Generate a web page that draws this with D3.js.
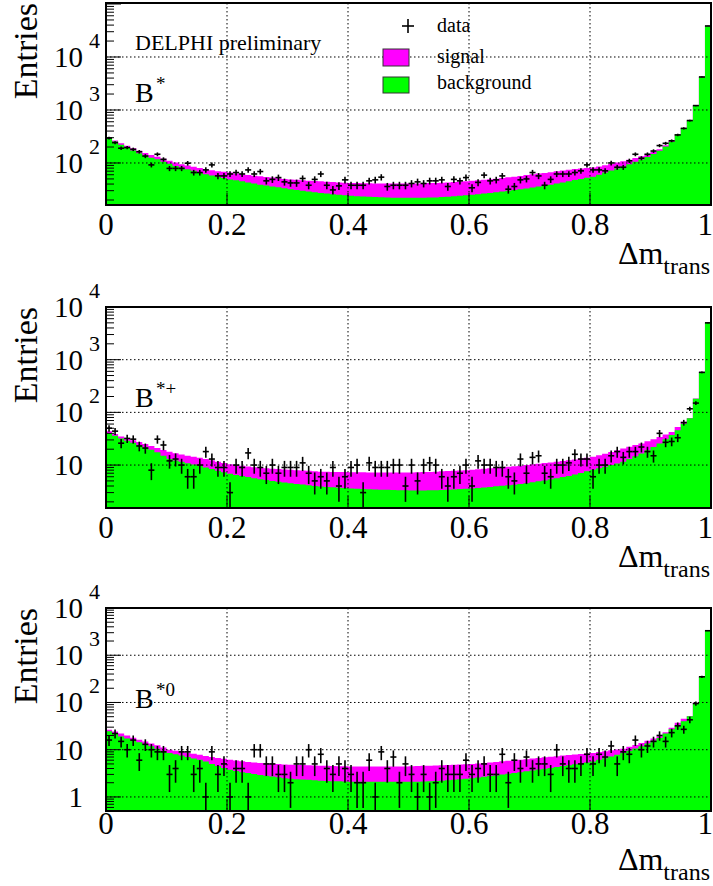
<!DOCTYPE html>
<html>
<head>
<meta charset="UTF-8">
<title>Delta m trans - DELPHI preliminary</title>
<style>
  body { margin: 0; background: #fff; }
  text { font-family: "Liberation Serif", "Times New Roman", serif; fill: #000; }
</style>
</head>
<body>
<script src="https://cdn.jsdelivr.net/npm/d3@7"></script>
<script>
// bins: 100 bins over [0,1]
var nBins = 100;
var xTicks = [0, 0.2, 0.4, 0.6, 0.8, 1];
var xTickLabels = ["0", "0.2", "0.4", "0.6", "0.8", "1"];
var xGrid = [0.2, 0.4, 0.6, 0.8];

// B* panel
var bstarData = [295,242,190,195,181,163,135,92,146,117,
  79,79,79,99,66,66,74,92,57,57,
  62,66,62,74,62,69,46,49,53,44,
  42,42,51,38,49,62,38,31,37,48,
  38,38,38,46,48,54,36,38,38,38,
  41,44,41,46,46,48,36,49,46,53,
  34,43,59,46,48,57,32,36,48,50,
  66,57,38,49,62,62,62,66,71,92,
  74,74,71,100,83,83,110,146,123,146,
  168,213,235,262,338,450,632,1210,4200,38500];
var bstarBkg = [295,255,220,195,172,152,138,126,117,106,
  97,88,82,76,71,65,61,58,55,52,
  49,47,45,43,41,39,37.5,36,35,33.5,
  32,31,30,29,28,27.2,26.5,25.8,25,24.5,
  24,23.6,23.2,23,22.7,22.5,22.3,22.1,22,22,
  22,22,22,22.2,22.4,22.7,23,23.5,24,24.5,
  25,25.7,26.4,27.2,28,29,30,31,32,33,
  34.5,36,37.5,39,41,43,45,47.5,50,52.5,
  55,60,66,72,79,86,95,105,116,130,
  148,170,204,252,347,450,630,1200,4170,38000];
var bstarTot = [300,265,235,212,190,170,155,142,131,120,
  110,102,95,90,85,80,76,73,70,68,
  66,63.5,61.5,59.5,57.5,56,54.5,53,51.5,50,
  49,48,47.2,46.4,45.7,45,44.3,43.6,43,42.5,
  42,41.7,41.5,41.3,41.1,41,41,41,41,41,
  41,41.2,41.4,41.7,42,42.5,43,43.7,44.5,45.3,
  46,47,48,49.2,50.5,52,53.5,55,57,59,
  61,63,65,67,69.5,72,74.5,77,79,80.5,
  82,86,91,96,102,108,115,124,134,146,
  161,181,215,262,352,455,635,1205,4180,38100];

// B*+ panel
var bplusData = [50,44,26,32,31,23,21,8,31,24,
  12,13,10,6,6,10,18,13,9,9,
  3,10,9,17,10,9,7,10,7,9,
  9,9,11,7,5,6,5,9,4,6,
  9,10,3,11,9,9,9,10,10,4,
  10,5,10,11,10,6,4,6,7,10,
  4,12,10,10,9,9,6,5,13,7,
  14,15,7,6,10,10,11,16,13,13,
  6,10,10,15,18,14,18,18,22,18,
  15,40,27,28,33,64,117,150,575,5000];
var bplusBkg = [40,36,32,29,26.5,24,21.5,19.5,17.5,15,
  13,12.2,11.5,10.8,10.2,9.6,9,8.4,7.8,7.3,
  6.8,6.5,6.2,5.9,5.6,5.4,5.2,5,4.8,4.65,
  4.5,4.38,4.26,4.14,4.02,3.9,3.84,3.78,3.72,3.66,
  3.6,3.56,3.52,3.48,3.44,3.4,3.38,3.36,3.34,3.32,
  3.3,3.3,3.3,3.32,3.34,3.37,3.4,3.44,3.5,3.55,
  3.6,3.68,3.76,3.85,3.95,4.05,4.15,4.25,4.38,4.5,
  4.7,4.9,5.1,5.35,5.6,5.9,6.2,6.6,7.1,7.6,
  8.1,8.7,9.3,10,10.7,11.5,13,14.7,16.6,19,
  22,25.7,31,37,46,61,77,182,575,5000];
var bplusTot = [44,39,35,32,29.5,27.5,25,23,21,19.3,
  17.8,16.8,15.8,15,14.3,13.7,13,12.3,11.6,10.9,
  10.3,10,9.7,9.4,9.1,8.9,8.7,8.55,8.4,8.25,
  8.1,8,7.9,7.8,7.65,7.5,7.46,7.42,7.38,7.34,
  7.3,7.28,7.26,7.24,7.22,7.2,7.2,7.2,7.2,7.2,
  7.25,7.3,7.35,7.4,7.5,7.6,7.7,7.8,7.9,8,
  8.1,8.3,8.5,8.7,8.9,9.1,9.3,9.5,9.75,10,
  10.3,10.6,10.9,11.2,11.6,12,12.4,12.8,13.3,13.8,
  14.3,15.3,16.4,17.6,19,20.6,22.2,23.9,25.7,28.2,
  31,34,38,42.5,53,66,78,183,576,5010];

// B*0 panel
var bzeroData = [16,22,15,10,16,6,13,10,9,9,
  3,4,9,9,3,4,1,9,3,5,
  1,4,4,1,10,10,5,5,3,3,
  2,5,5,10,5,8,4,3,5,4,
  3,2,2,6,1,9,4,7,2,5,
  3,1,3,1,2,4,3,3,3,6,
  3,4,5,3,3,8,2,6,4,7,
  4,5,5,3,10,5,4,4,5,8,
  5,8,7,12,5,9,8,16,10,12,
  15,20,15,23,32,27,43,95,350,3300];
var bzeroBkg = [24.5,21.5,19,17.2,15.7,14.3,13,11.8,10.5,9.4,
  8.5,8,7.5,7,6.5,6.1,5.6,5,4.5,4.1,
  3.75,3.55,3.35,3.2,3.05,2.9,2.8,2.7,2.6,2.5,
  2.42,2.38,2.34,2.3,2.25,2.2,2.18,2.16,2.14,2.12,
  2.1,2.1,2.1,2.1,2.1,2.1,2.1,2.1,2.1,2.1,
  2.1,2.1,2.12,2.14,2.17,2.2,2.25,2.3,2.36,2.43,
  2.5,2.58,2.67,2.76,2.86,2.97,3.1,3.22,3.35,3.5,
  3.65,3.8,3.95,4.1,4.3,4.5,4.7,4.9,5.1,5.35,
  5.6,6.1,6.6,7.2,7.8,8.5,9.5,10.6,11.8,13.5,
  15.5,17.7,22,27,32,40,51,98,350,3300];
var bzeroTot = [26.6,24.2,22,20,18,16.3,14.9,13.6,12.4,11.2,
  10,9.5,9,8.6,8.2,7.8,7.4,7,6.7,6.4,
  6.1,5.9,5.7,5.5,5.35,5.2,5.12,5.04,4.96,4.88,
  4.8,4.76,4.72,4.68,4.64,4.6,4.56,4.52,4.48,4.44,
  4.4,4.4,4.4,4.4,4.4,4.4,4.4,4.4,4.4,4.4,
  4.45,4.5,4.55,4.6,4.65,4.7,4.76,4.82,4.88,4.94,
  5,5.12,5.24,5.38,5.52,5.67,5.82,5.98,6.14,6.3,
  6.5,6.7,6.9,7.1,7.3,7.5,7.7,7.9,8.1,8.3,
  8.5,8.9,9.3,9.7,10.1,10.5,11.5,12.6,13.9,15.5,
  17.2,19.2,23.5,29,37,45,52,99,352,3310];

var legendLabels = ["data", "signal", "background"];

var panels = [
  {top: 3,   bottom: 205, yDomain: [16.1, 104500], decades: [2, 3, 4],
   name: "B", sup: "*", data: bstarData, bkg: bstarBkg, tot: bstarTot, xLabY: 235},
  {top: 307, bottom: 508, yDomain: [1.53, 10000], decades: [1, 2, 3, 4],
   name: "B", sup: "*+", data: bplusData, bkg: bplusBkg, tot: bplusTot, xLabY: 538},
  {top: 608, bottom: 811, yDomain: [0.504, 10000], decades: [0, 1, 2, 3, 4],
   name: "B", sup: "*0", data: bzeroData, bkg: bzeroBkg, tot: bzeroTot, xLabY: 834}
];

var width = 713, height = 886;
var svg = d3.select("body").append("svg")
  .attr("width", width)
  .attr("height", height);

var x = d3.scaleLinear().domain([0, 1]).range([106, 711]);
var edges = d3.range(nBins + 1).map(function(i){ return i / nBins; });

panels.forEach(function(p, k){
  var y = d3.scaleLog().domain(p.yDomain).range([p.bottom, p.top]);
  var yLow = p.yDomain[0];

  svg.append("clipPath").attr("id", "clip" + k)
    .append("rect")
    .attr("x", x(0)).attr("y", p.top)
    .attr("width", x(1) - x(0)).attr("height", p.bottom - p.top);

  var plot = svg.append("g").attr("clip-path", "url(#clip" + k + ")");

  // step histograms: total (signal on top) then background
  function steps(vals){
    var pts = [];
    vals.forEach(function(v, i){
      pts.push([edges[i], v]);
      pts.push([edges[i + 1], v]);
    });
    return pts;
  }
  var area = d3.area()
    .x(function(d){ return x(d[0]); })
    .y0(p.bottom)
    .y1(function(d){ return y(Math.max(d[1], yLow * 0.5)); });

  plot.append("path").datum(steps(p.tot))
    .attr("fill", "#ff00ff").attr("d", area);
  plot.append("path").datum(steps(p.bkg))
    .attr("fill", "#00ff00").attr("d", area);

  // grid (dotted)
  xGrid.forEach(function(t){
    plot.append("line")
      .attr("x1", x(t)).attr("x2", x(t))
      .attr("y1", p.top).attr("y2", p.bottom)
      .attr("stroke", "#000").attr("stroke-width", 1)
      .attr("stroke-dasharray", "1.5,2.5");
  });
  p.decades.forEach(function(d){
    var v = Math.pow(10, d);
    plot.append("line")
      .attr("x1", x(0)).attr("x2", x(1))
      .attr("y1", y(v)).attr("y2", y(v))
      .attr("stroke", "#000").attr("stroke-width", 1)
      .attr("stroke-dasharray", "1.5,2.5");
  });

  // data points with sqrt(N) errors
  p.data.forEach(function(v, i){
    if (v <= 0) return;
    var e = Math.sqrt(v);
    var lo = v - e;
    var yc = y(v);
    var y1 = lo > 0 ? Math.min(y(lo), p.bottom) : p.bottom;
    var y2 = y(v + e);
    plot.append("line")
      .attr("x1", x(edges[i])).attr("x2", x(edges[i + 1]))
      .attr("y1", yc).attr("y2", yc)
      .attr("stroke", "#000").attr("stroke-width", 1.6);
    var xm = x((edges[i] + edges[i + 1]) / 2);
    plot.append("line")
      .attr("x1", xm).attr("x2", xm)
      .attr("y1", y1).attr("y2", y2)
      .attr("stroke", "#000").attr("stroke-width", 1.6);
  });

  // x ticks (inside)
  xTicks.forEach(function(t, j){
    svg.append("line")
      .attr("x1", x(t)).attr("x2", x(t))
      .attr("y1", p.bottom).attr("y2", p.bottom - 12)
      .attr("stroke", "#000").attr("stroke-width", 1);
    svg.append("text")
      .attr("x", t === 1 ? 713 : x(t)).attr("y", p.xLabY)
      .attr("text-anchor", t === 1 ? "end" : "middle")
      .attr("font-size", 31)
      .text(xTickLabels[j]);
  });

  // y ticks, major and minor
  var dMin = Math.floor(Math.log10(p.yDomain[0]));
  var dMax = Math.ceil(Math.log10(p.yDomain[1]));
  for (var d = dMin; d <= dMax; d++) {
    for (var m = 1; m <= 9; m++) {
      var v = m * Math.pow(10, d);
      if (v < p.yDomain[0] || v > p.yDomain[1] * 1.001) continue;
      svg.append("line")
        .attr("x1", x(0)).attr("x2", x(0) + (m === 1 ? 15 : 8))
        .attr("y1", y(v)).attr("y2", y(v))
        .attr("stroke", "#000").attr("stroke-width", 1);
    }
  }
  p.decades.forEach(function(d){
    var yy = y(Math.pow(10, d));
    var base = d === 0 ? "1" : "10";
    svg.append("text")
      .attr("x", 83).attr("y", yy + 10)
      .attr("text-anchor", "end")
      .attr("font-size", 29)
      .text(base);
    if (d > 1) {
      svg.append("text")
        .attr("x", 89).attr("y", yy - 9)
        .attr("font-size", 22)
        .text(String(d));
    }
  });

  // frame
  svg.append("rect")
    .attr("x", x(0)).attr("y", p.top)
    .attr("width", x(1) - x(0)).attr("height", p.bottom - p.top)
    .attr("fill", "none").attr("stroke", "#000").attr("stroke-width", 2);

  // axis titles
  svg.append("text")
    .attr("transform", "translate(37," + p.top + ") rotate(-90)")
    .attr("text-anchor", "end")
    .attr("font-size", 34)
    .text("Entries");

  var xt = svg.append("text")
    .attr("x", 710).attr("y", p.bottom + 59)
    .attr("text-anchor", "end");
  xt.append("tspan").attr("font-size", 32).text("\u0394m");
  xt.append("tspan").attr("font-size", 24).attr("dy", 10).text("trans");

  // particle label
  var by = p.top + (k === 0 ? 99 : 100);
  svg.append("text")
    .attr("x", 135).attr("y", by)
    .attr("font-size", 28)
    .text(p.name);
  svg.append("text")
    .attr("x", 156).attr("y", by - 12)
    .attr("font-size", 19)
    .text(p.sup);
});

// top panel annotations
svg.append("text")
  .attr("x", 135).attr("y", 50)
  .attr("font-size", 22)
  .text("DELPHI preliminary");

// legend
var lg = svg.append("g");
lg.append("line").attr("x1", 402).attr("x2", 414).attr("y1", 26).attr("y2", 26)
  .attr("stroke", "#000").attr("stroke-width", 1.6);
lg.append("line").attr("x1", 408).attr("x2", 408).attr("y1", 19).attr("y2", 33)
  .attr("stroke", "#000").attr("stroke-width", 1.6);
lg.append("rect").attr("x", 383).attr("y", 49).attr("width", 26).attr("height", 17)
  .attr("fill", "#ff00ff").attr("stroke", "#333").attr("stroke-width", 1);
lg.append("rect").attr("x", 383).attr("y", 77).attr("width", 26).attr("height", 16)
  .attr("fill", "#00ff00").attr("stroke", "#333").attr("stroke-width", 1);
[32, 63, 89].forEach(function(yy, i){
  lg.append("text")
    .attr("x", 437).attr("y", yy)
    .attr("font-size", 20)
    .text(legendLabels[i]);
});
</script>
</body>
</html>
